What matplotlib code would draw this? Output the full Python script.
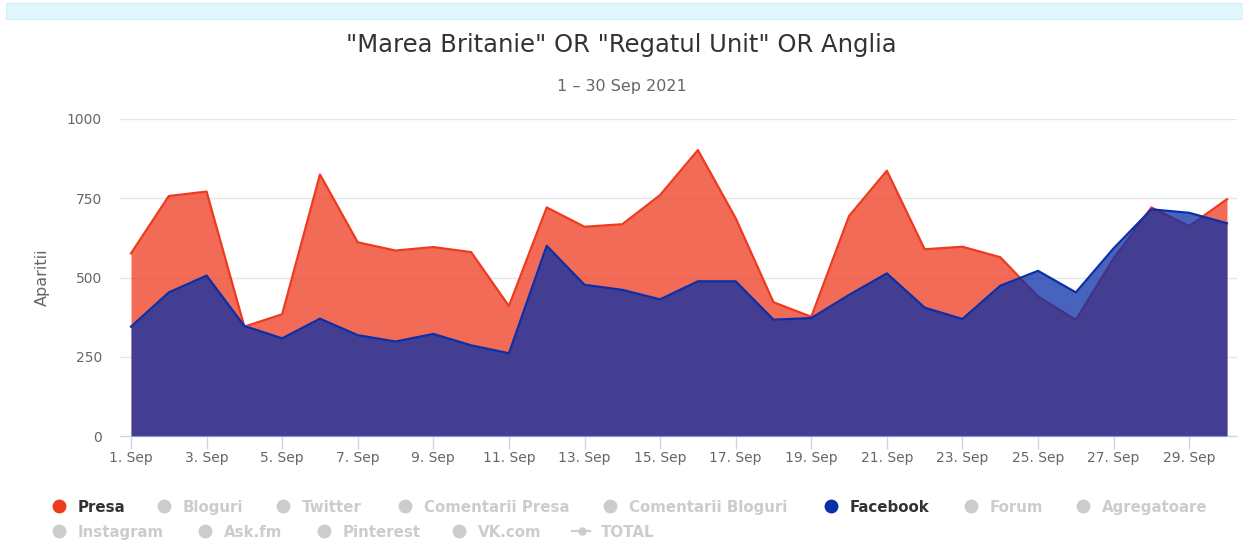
import numpy as np
import matplotlib
matplotlib.use("Agg")
import matplotlib.pyplot as plt
from matplotlib.lines import Line2D
from matplotlib.patches import Rectangle

#%% data
days = np.arange(1, 31)
presa = [576, 757, 771, 345, 384, 825, 611, 585, 596, 580,
         410, 721, 660, 668, 760, 902, 687, 422, 376, 694,
         837, 589, 597, 564, 440, 366, 560, 721, 662, 747]
facebook = [345, 453, 506, 347, 308, 370, 318, 298, 322, 286,
            261, 600, 477, 461, 431, 488, 488, 367, 372, 445,
            513, 405, 369, 474, 521, 453, 592, 715, 704, 671]

tick_days = np.arange(1, 31, 2)
tick_labels = [f"{d}. Sep" for d in tick_days]
y_ticks = [0, 250, 500, 750, 1000]

legend_names = ["Presa", "Bloguri", "Twitter", "Comentarii Presa", "Comentarii Bloguri",
                "Facebook", "Forum", "Agregatoare",
                "Instagram", "Ask.fm", "Pinterest", "VK.com", "TOTAL"]
legend_active = {"Presa": "#ee3a1e", "Facebook": "#0a2fa8"}

title = '"Marea Britanie" OR "Regatul Unit" OR Anglia'
subtitle = "1 \u2013 30 Sep 2021"

#%% figure
W, H = 1243, 544
fig = plt.figure(figsize=(W / 100, H / 100), dpi=100)

def fx(px):
    return px / W

def fy(py):
    return 1 - py / H

# top band
fig.patches.append(Rectangle((fx(6), fy(19)), fx(1243) - fx(6), fy(3) - fy(19),
                             transform=fig.transFigure, facecolor="#dff6fb",
                             edgecolor="#d2eef6", lw=0.8))

ax = fig.add_axes([fx(120), fy(436), fx(1237) - fx(120), fy(119) - fy(436)])
ax.set_xlim(1 - 11 / 37.8, 30 + 10 / 37.8)
ax.set_ylim(0, 1000)

red = legend_active["Presa"]
blue = legend_active["Facebook"]
ax.fill_between(days, presa, color=red, alpha=0.75, lw=0, zorder=2)
ax.plot(days, presa, color=red, lw=1.6, zorder=3)
ax.fill_between(days, facebook, color=blue, alpha=0.75, lw=0, zorder=4)
ax.plot(days, facebook, color=blue, lw=1.6, zorder=5)

for y in y_ticks[1:]:
    ax.axhline(y, color="#e6e6e6", lw=1, zorder=1)

for s in ["top", "right", "left"]:
    ax.spines[s].set_visible(False)
ax.spines["bottom"].set_color("#ccd6eb")
ax.spines["bottom"].set_linewidth(1)

ax.set_xticks(tick_days)
ax.set_xticklabels(tick_labels)
ax.set_yticks(y_ticks)
ax.set_yticklabels([str(v) for v in y_ticks])
ax.tick_params(axis="x", colors="#ccd6eb", length=9, width=1, labelcolor="#666666",
               labelsize=10, pad=2)
ax.tick_params(axis="y", length=0, labelcolor="#666666", labelsize=10, pad=13)
ax.set_ylabel("Aparitii", color="#666666", fontsize=11.5, labelpad=12)

fig.text(0.5, fy(45), title, ha="center", va="center", fontsize=17.5, color="#333333")
fig.text(0.5, fy(87), subtitle, ha="center", va="center", fontsize=11.5, color="#666666")

#%% legend
leg_x = [59, 164, 283, 405, 610, 831, 971, 1083, 59, 205, 324, 459, 582]
leg_y = [506] * 8 + [531] * 5
for name, x, y in zip(legend_names, leg_x, leg_y):
    col = legend_active.get(name, "#cccccc")
    txt_col = "#333333" if name in legend_active else "#cccccc"
    if name == "TOTAL":
        fig.add_artist(Line2D([fx(x - 10), fx(x + 8)], [fy(y), fy(y)], color=col, lw=1.5,
                              transform=fig.transFigure))
    fig.add_artist(Line2D([fx(x)], [fy(y)], marker="o", markersize=10 if name != "TOTAL" else 6,
                          color=col, markeredgewidth=0, transform=fig.transFigure))
    fig.text(fx(x + 19), fy(y), name, ha="left", va="center_baseline", fontsize=10.8,
             fontweight="bold", color=txt_col)

fig.savefig("out.png", dpi=100)
